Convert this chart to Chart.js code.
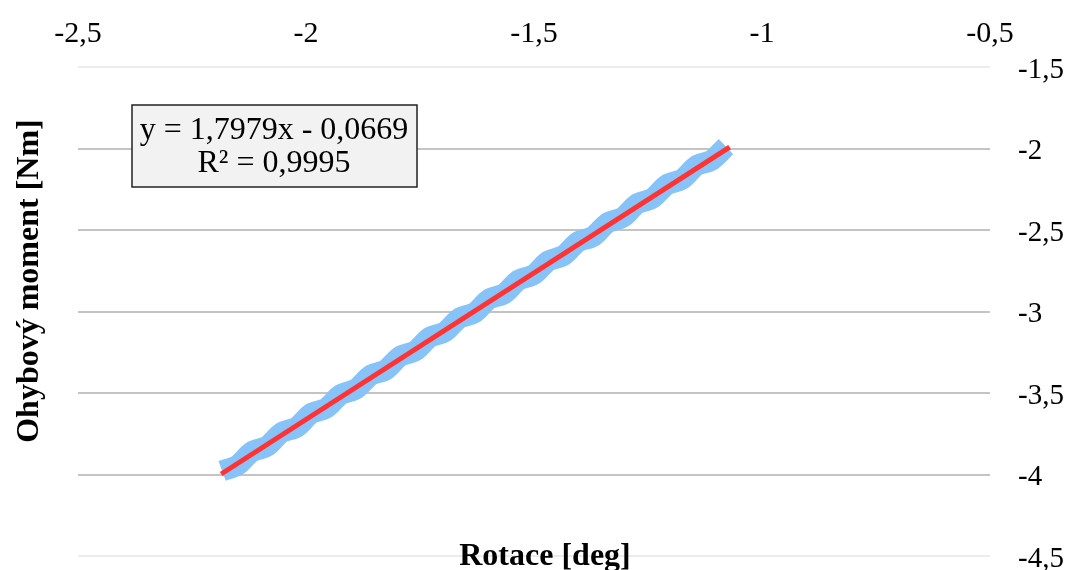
<!DOCTYPE html>
<html>
<head>
<meta charset="utf-8">
<script src="https://cdn.jsdelivr.net/npm/chart.js@4"></script>
<style>
  html, body { margin: 0; padding: 0; background: #fff; }
  #wrap { width: 1072px; height: 570px; position: relative; }
</style>
</head>
<body>
<div id="wrap"><canvas id="rotChart"></canvas></div>
<script>
// measured data (rotation vs bending moment)
const rotX = [-2.184, -2.150, -2.119, -2.085, -2.054, -2.020, -1.989, -1.955, -1.924, -1.890,
              -1.859, -1.825, -1.794, -1.760, -1.729, -1.695, -1.664, -1.630, -1.599, -1.565,
              -1.534, -1.500, -1.469, -1.435, -1.404, -1.370, -1.339, -1.305, -1.274, -1.240,
              -1.209, -1.175, -1.144, -1.110, -1.079];
const momentY = [-3.978, -3.943, -3.861, -3.826, -3.744, -3.709, -3.627, -3.592, -3.510, -3.475,
                 -3.393, -3.358, -3.276, -3.241, -3.159, -3.124, -3.042, -3.007, -2.925, -2.890,
                 -2.808, -2.773, -2.691, -2.656, -2.574, -2.539, -2.457, -2.422, -2.340, -2.305,
                 -2.223, -2.188, -2.106, -2.071, -1.989];

// linear trendline end points
const trendX = [-2.186, -1.071];
const trendY = [-3.997, -1.992];

const xTicks = [-2.5, -2, -1.5, -1, -0.5];
const yTicks = [-4.5, -4, -3.5, -3, -2.5, -2, -1.5];
const eqText = ['y = 1,7979x - 0,0669', 'R\u00b2 = 0,9995'];
const xTitle = 'Rotace [deg]';
const yTitle = 'Ohybový moment [Nm]';

const fmt = v => String(v).replace('.', ',');
const serif = "'Liberation Serif', 'Times New Roman', serif";

const extraText = {
  id: 'extraText',
  afterDraw(chart) {
    const ctx = chart.ctx;
    ctx.save();
    // equation box
    ctx.fillStyle = '#f2f2f2';
    ctx.fillRect(132, 105, 285, 82);
    ctx.strokeStyle = '#222';
    ctx.lineWidth = 1.5;
    ctx.strokeRect(132, 105, 285, 82);
    ctx.fillStyle = '#000';
    ctx.font = '32px ' + serif;
    ctx.textAlign = 'center';
    ctx.textBaseline = 'middle';
    ctx.fillText(eqText[0], 274, 131);
    ctx.fillText(eqText[1], 274, 164);
    // axis titles
    ctx.font = 'bold 32px ' + serif;
    ctx.textBaseline = 'alphabetic';
    ctx.fillText(xTitle, 545, 565);
    ctx.translate(38, 281);
    ctx.rotate(-Math.PI / 2);
    ctx.fillText(yTitle, 0, 0);
    ctx.restore();
  }
};

const ctx = document.getElementById('rotChart').getContext('2d');
const chart = new Chart(ctx, {
  type: 'scatter',
  data: {
    datasets: [
      {
        label: 'trend',
        data: trendX.map((x, i) => ({ x: x, y: trendY[i] })),
        showLine: true,
        borderColor: '#ff3333',
        borderWidth: 5,
        pointRadius: 0,
        order: 0
      },
      {
        label: 'data',
        data: rotX.map((x, i) => ({ x: x, y: momentY[i] })),
        showLine: true,
        borderColor: '#87c2f9',
        borderWidth: 21,
        borderCapStyle: 'butt',
        borderJoinStyle: 'round',
        tension: 0.3,
        pointRadius: 0,
        order: 1
      }
    ]
  },
  options: {
    responsive: true,
    maintainAspectRatio: false,
    animation: false,
    layout: { padding: { left: 78, right: 0, top: 0, bottom: 14 } },
    plugins: { legend: { display: false }, tooltip: { enabled: false } },
    scales: {
      x: {
        type: 'linear',
        position: 'top',
        min: -2.5,
        max: -0.5,
        afterBuildTicks: s => { s.ticks = xTicks.map(v => ({ value: v })); },
        afterFit: s => { s.height = 67; s.paddingLeft = 0; s.paddingRight = 0; },
        grid: { display: false },
        border: { display: false },
        ticks: {
          padding: 7,
          color: '#000',
          font: { family: serif, size: 30 },
          callback: v => fmt(v)
        }
      },
      y: {
        type: 'linear',
        position: 'right',
        min: -4.5,
        max: -1.5,
        afterBuildTicks: s => { s.ticks = yTicks.map(v => ({ value: v })); },
        afterFit: s => { s.width = 82; s.paddingTop = 0; s.paddingBottom = 0; },
        border: { display: false },
        grid: {
          drawTicks: false,
          lineWidth: 2,
          color: c => (c.tick && (c.tick.value === -1.5 || c.tick.value === -4.5)) ? '#ececec' : '#c4c4c4'
        },
        ticks: {
          padding: 28,
          labelOffset: 3,
          color: '#000',
          font: { family: serif, size: 29 },
          callback: v => fmt(v)
        }
      }
    }
  },
  plugins: [extraText]
});
</script>
</body>
</html>
